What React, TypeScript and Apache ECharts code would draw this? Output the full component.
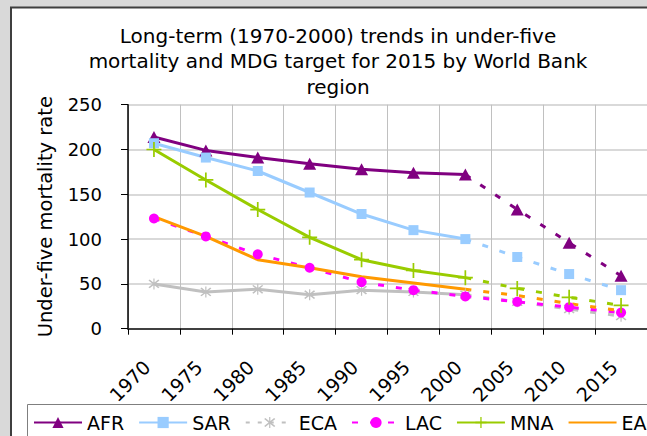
import React, { useEffect, useRef } from "react";
import * as echarts from "echarts";

const categories = ["1970", "1975", "1980", "1985", "1990", "1995", "2000", "2005", "2010", "2015"];

// Observed 1970-2000 values (points 1..7)
const afr = [214, 199, 191, 184, 178, 174, 172];
const sar = [207, 191, 176, 152, 128, 110, 100];
const eca = [50, 41, 44, 38, 43, 41, 38];
const lac = [123, 103, 83, 68, 52, 43, 36];
const mna = [200, 166, 133, 102, 77, 65, 57];
const eap = [125, 103, 77, 68, 58, 51, 44];

// Path to the MDG target (points 7..10)
const afrTarget = [172, 133, 96, 59];
const sarTarget = [100, 80, 61, 43];
const ecaTarget = [38, 30, 22, 14];
const lacTarget = [36, 30, 24, 18];
const mnaTarget = [57, 45, 35, 26];
const eapTarget = [44, 37, 28, 20];

const yTicks = [0, 50, 100, 150, 200, 250];

const FONT = "DejaVu Sans";

const PLUS =
  "path://M-0.8,-7 L0.8,-7 L0.8,-0.8 L7,-0.8 L7,0.8 L0.8,0.8 L0.8,7 L-0.8,7 L-0.8,0.8 L-7,0.8 L-7,-0.8 L-0.8,-0.8 Z";
const STAR =
  "path://M-0.7,-8 L0.7,-8 L0.7,8 L-0.7,8 Z M-6.4,-5 L-5,-6.4 L6.4,5 L5,6.4 Z M5,-6.4 L6.4,-5 L-5,6.4 L-6.4,5 Z";

type Spec = {
  name: string;
  color: string;
  main: number[];
  target: number[];
  symbol: string;
  size: number | number[];
  dashedMain?: boolean;
};

const specs: Spec[] = [
  { name: "AFR", color: "#800080", main: afr, target: afrTarget, symbol: "triangle", size: [13, 12] },
  { name: "SAR", color: "#99ccff", main: sar, target: sarTarget, symbol: "rect", size: 10 },
  { name: "ECA", color: "#c0c0c0", main: eca, target: ecaTarget, symbol: STAR, size: 11 },
  { name: "LAC", color: "#ff00ff", main: lac, target: lacTarget, symbol: "circle", size: 10, dashedMain: true },
  { name: "MNA", color: "#99cc00", main: mna, target: mnaTarget, symbol: PLUS, size: 15 },
  { name: "EAP", color: "#ff9900", main: eap, target: eapTarget, symbol: "none", size: 0 },
];

const DASH = [6, 12];

export default function App() {
  const ref = useRef<HTMLDivElement>(null);

  useEffect(() => {
    if (!ref.current) return;
    const chart = echarts.init(ref.current, undefined, { renderer: "svg" });

    const mainSeries = specs.map((s) => ({
      name: s.name,
      type: "line",
      data: s.main,
      symbol: s.symbol,
      symbolSize: s.size,
      showSymbol: s.symbol !== "none",
      lineStyle: { color: s.color, width: 3, type: s.dashedMain ? DASH : "solid", cap: "butt" },
      itemStyle: { color: s.color },
      emphasis: { disabled: true },
    }));

    const targetSeries = specs.map((s) => {
      const offset = s.main.length - 1;
      const data: any[] = [];
      for (let i = 0; i < offset; i++) data.push("-");
      s.target.forEach((v, i) => {
        if (i === 0) data.push({ value: v, symbol: "none" });
        else data.push(v);
      });
      return {
        name: s.name + " target",
        type: "line",
        data,
        symbol: s.symbol,
        symbolSize: s.size,
        showSymbol: s.symbol !== "none",
        lineStyle: { color: s.color, width: 3, type: DASH, cap: "butt" },
        itemStyle: { color: s.color },
        emphasis: { disabled: true },
      };
    });

    chart.setOption({
      animation: false,
      backgroundColor: "#d9d9d9",
      textStyle: { fontFamily: FONT },
      graphic: [
        {
          type: "rect",
          z: -10,
          silent: true,
          shape: { x: 11, y: 7.5, width: 700, height: 500 },
          style: { fill: "#ffffff", stroke: "#3f3f3f", lineWidth: 2 },
        },
        {
          type: "rect",
          z: -5,
          silent: true,
          shape: { x: 27.5, y: 404.5, width: 700, height: 60 },
          style: { fill: "none", stroke: "#7f7f7f", lineWidth: 1 },
        },
      ],
      title: {
        text: "Long-term (1970-2000) trends in under-five\nmortality and MDG target for 2015 by World Bank\nregion",
        left: 333,
        top: 18,
        textAlign: "center",
        textStyle: {
          fontFamily: FONT,
          fontSize: 20,
          fontWeight: "normal",
          color: "#000",
          lineHeight: 25.5,
        },
      },
      legend: {
        left: 33,
        top: 413,
        width: 1000,
        padding: 0,
        itemWidth: 48,
        itemHeight: 14,
        itemGap: 14,
        textStyle: { fontFamily: FONT, fontSize: 19, color: "#000" },
        data: specs.map((s) => {
          if (s.name === "ECA") return { name: s.name, lineStyle: { type: [4, 8] } };
          if (s.name === "EAP") return { name: s.name, itemStyle: { opacity: 0 } };
          return { name: s.name };
        }),
        selectedMode: false,
      },
      grid: { left: 128, top: 104.7, width: 520, height: 224 },
      xAxis: {
        type: "category",
        data: categories,
        boundaryGap: true,
        axisLine: { lineStyle: { color: "#404040", width: 2 } },
        axisTick: { show: true, inside: false, length: 6, lineStyle: { color: "#000", width: 1 }, alignWithLabel: false },
        axisLabel: {
          rotate: 45,
          interval: 0,
          margin: 28,
          padding: [0, 10, 0, 0],
          fontFamily: FONT,
          fontSize: 19,
          color: "#000",
        },
        splitLine: { show: true, lineStyle: { color: "#c0c0c0", width: 1 } },
      },
      yAxis: {
        type: "value",
        min: yTicks[0],
        max: yTicks[yTicks.length - 1],
        interval: 50,
        name: "Under-five mortality rate",
        nameLocation: "middle",
        nameGap: 73,
        nameTextStyle: { fontFamily: FONT, fontSize: 19.5, color: "#000" },
        axisLine: { show: true, lineStyle: { color: "#000", width: 1.5 } },
        axisTick: { show: true, inside: false, length: 7, lineStyle: { color: "#000", width: 1 } },
        axisLabel: { margin: 26, fontFamily: FONT, fontSize: 18, color: "#000" },
        splitLine: { show: true, lineStyle: { color: "#d9d9d9", width: 2 } },
      },
      series: [...mainSeries, ...targetSeries],
    });

    return () => chart.dispose();
  }, []);

  return (
    <div
      ref={ref}
      style={{ position: "fixed", left: 0, top: 0, width: 647, height: 436 }}
    />
  );
}
